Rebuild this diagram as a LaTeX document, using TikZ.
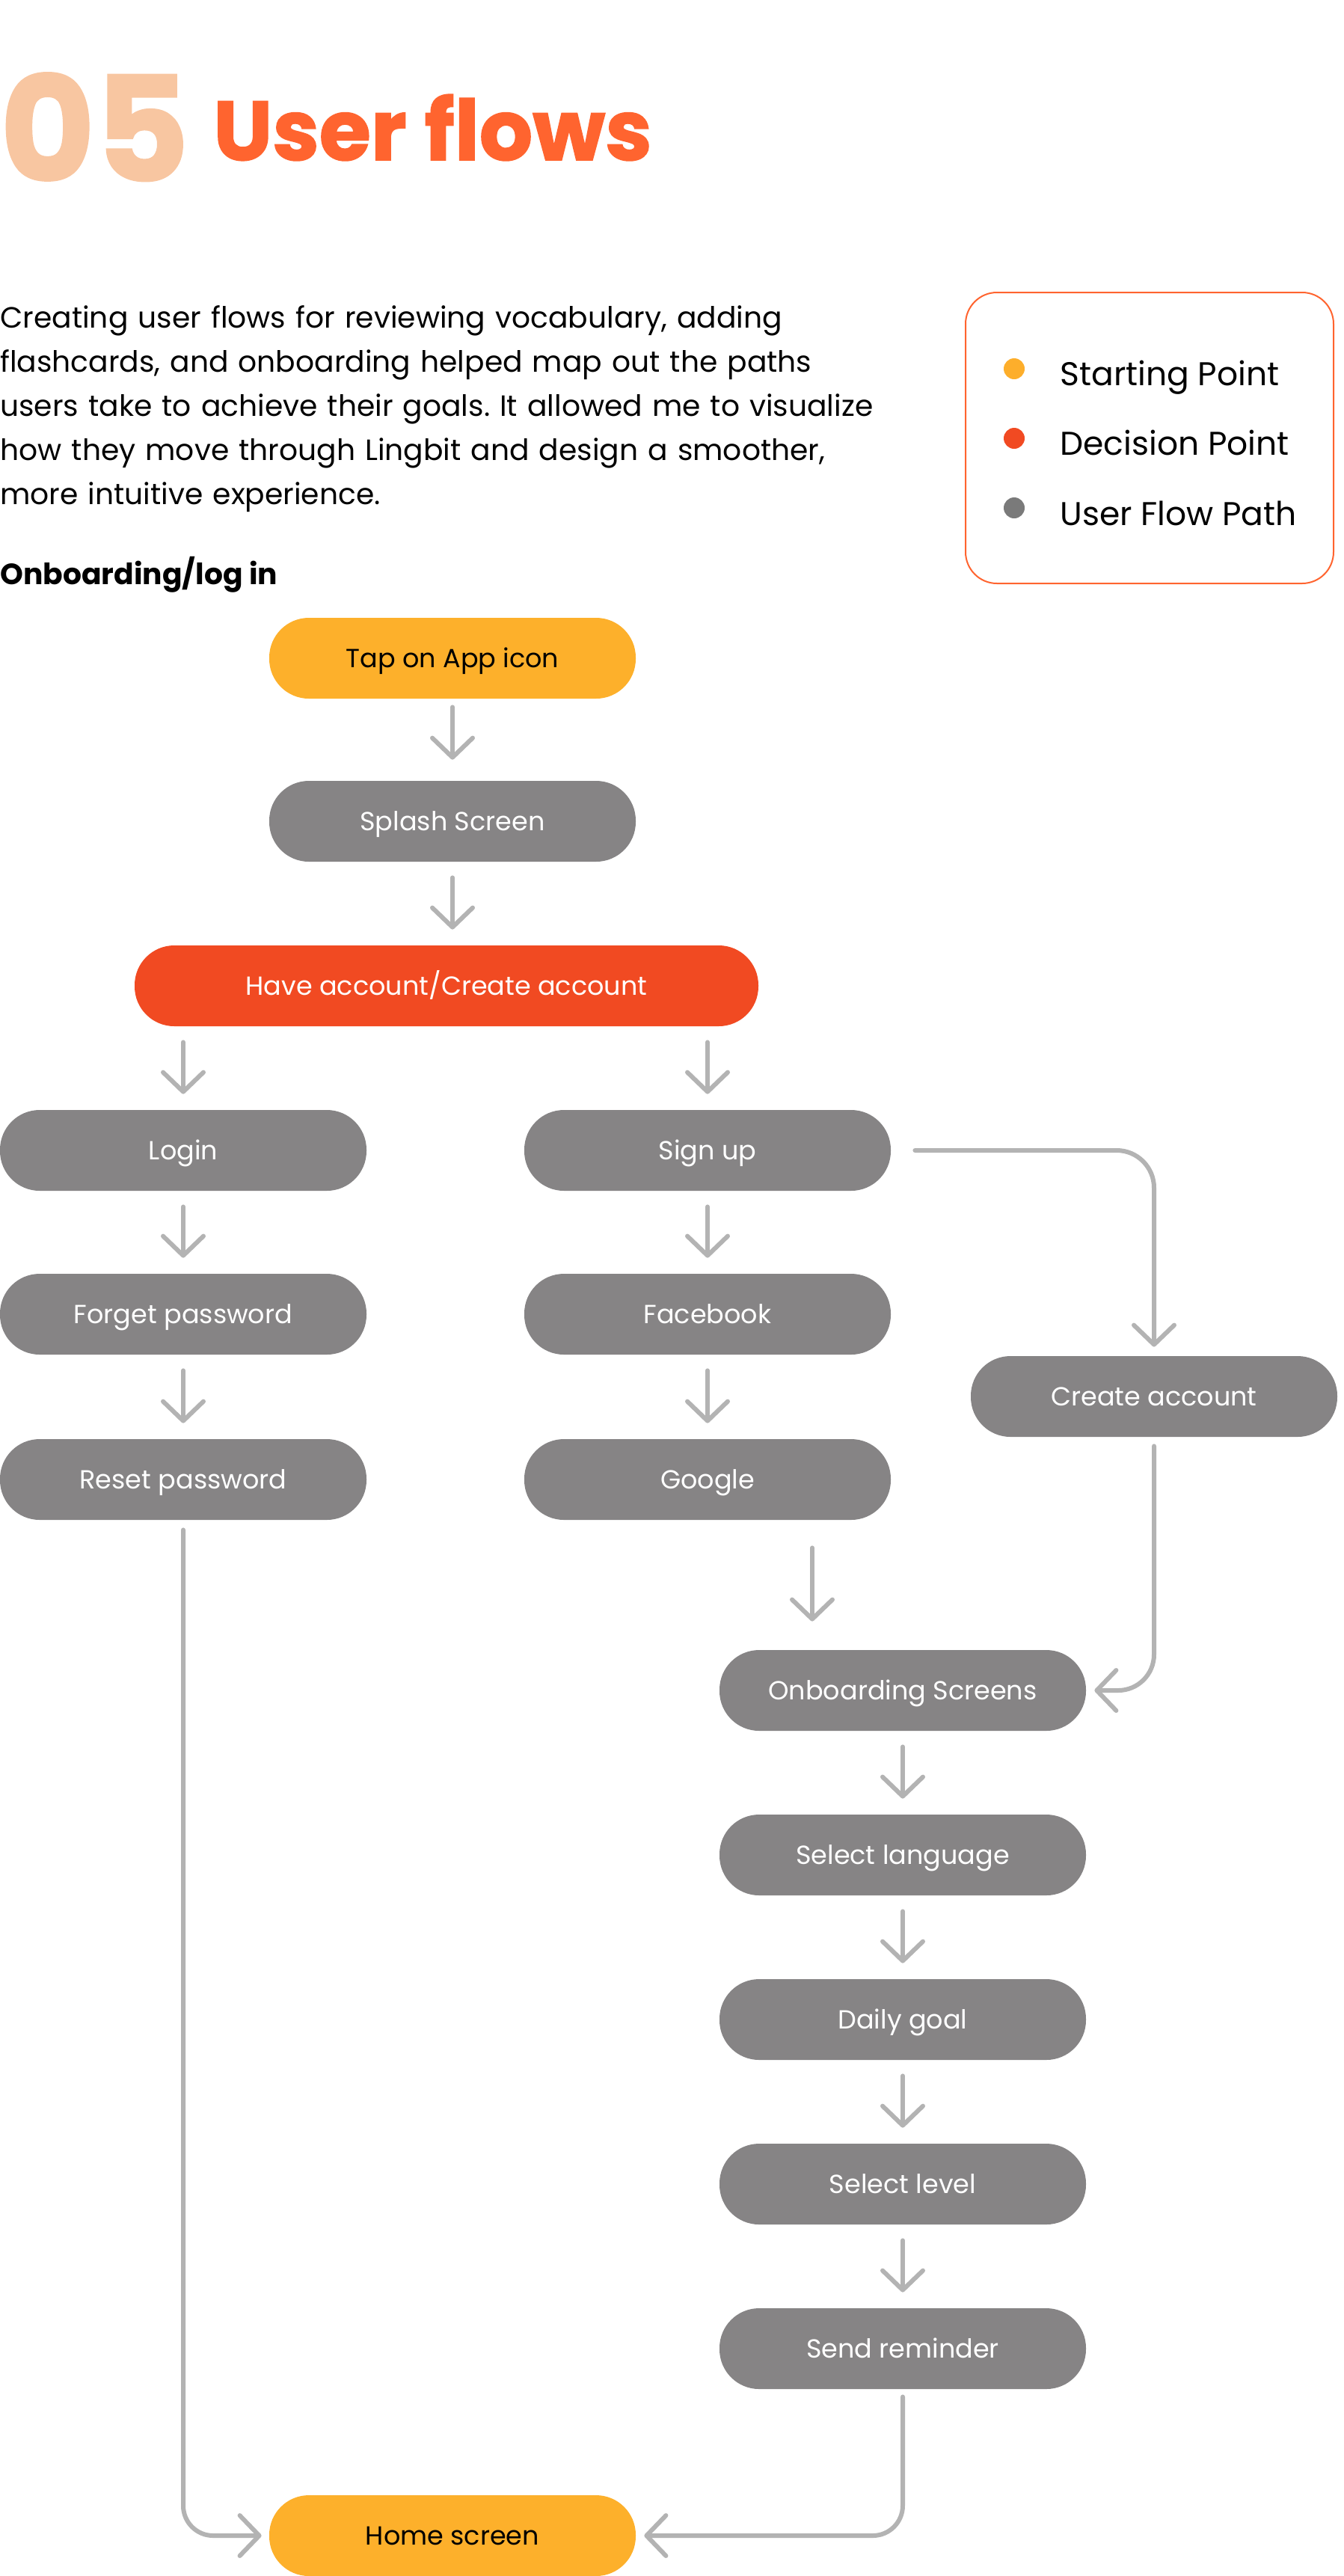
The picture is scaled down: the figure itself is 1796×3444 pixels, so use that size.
\documentclass[tikz,border=0pt]{standalone}
\usepackage{fontspec}
\setmainfont{Poppins}
\newfontfamily\headfont[BoldFeatures={FakeBold=1.5}]{Poppins}
\usetikzlibrary{arrows.meta}
\definecolor{startorange}{HTML}{FDB02B}
\definecolor{decisionred}{HTML}{F14A22}
\definecolor{pathgray}{HTML}{868485}
\definecolor{arrowgray}{HTML}{B3B3B3}
\definecolor{titlepeach}{HTML}{F8C6A1}
\definecolor{titleorange}{HTML}{FF642F}
\definecolor{dotorange}{HTML}{FDAE2B}
\definecolor{dotgray}{HTML}{7A7A7A}
\frenchspacing
\begin{document}
\begin{tikzpicture}[x=0.5pt,y=-0.5pt,
  boxdecorate/.style={shape=rectangle,rounded corners=26.5pt,minimum width=245pt,minimum height=54pt,inner sep=0pt,text height=12.5pt,text depth=0pt,font=\fontsize{17.5}{20}\selectfont},
  startdecorate/.style={boxdecorate,fill=startorange,text=black},
  pathdecorate/.style={boxdecorate,fill=pathgray,text=white},
  decisiondecorate/.style={boxdecorate,fill=decisionred,text=white,minimum width=417pt},
  dotdecorate/.style={shape=circle,inner sep=0pt,minimum size=14pt},
  labeldecorate/.style={anchor=base west,inner sep=0pt,font=\fontsize{22}{26}\selectfont},
  arrowdecorate/.style={-{Straight Barb[length=13pt,width=27pt,line cap=round,line join=round]},line width=3pt,draw=arrowgray,line cap=round},
  stepdecorate/.style={arrowdecorate,shorten <=10.5pt,shorten >=10.5pt}]
\useasboundingbox (0,0) rectangle (1796,3444);
% heading and text
\node (num) [anchor=base west,inner sep=0pt,text=titlepeach,font=\headfont\fontsize{97}{97}\bfseries\selectfont] at (0,242) {05};
\node (title) [anchor=base west,inner sep=0pt,text=titleorange,font=\headfont\fontsize{56}{56}\bfseries\selectfont] at (285,214) {User flows};
\node (intro) [anchor=base west,inner sep=0pt,text width=640pt,align=left,font=\fontsize{19.6}{29.6}\selectfont] at (0,438)
  {Creating user flows for reviewing vocabulary, adding\\
   flashcards, and onboarding helped map out the paths\\
   users take to achieve their goals. It allowed me to visualize\\
   how they move through Lingbit and design a smoother,\\
   more intuitive experience.};
\node (subhead) [anchor=base west,inner sep=0pt,font=\fontsize{19.6}{22}\bfseries\selectfont] at (0,781) {Onboarding/log in};
% legend
\node (legend) [draw=titleorange,line width=1pt,rounded corners=21pt,minimum width=246pt,minimum height=194.5pt] at (1537,585.5) {};
\node (startdot) [dotdecorate,fill=dotorange] at (1356,493) {};
\node (decidedot) [dotdecorate,fill=decisionred] at (1356,586) {};
\node (pathdot) [dotdecorate,fill=dotgray] at (1356,679) {};
\node (startlabel) [labeldecorate] at (1417,515) {Starting Point};
\node (decidelabel) [labeldecorate] at (1417,608) {Decision Point};
\node (pathlabel) [labeldecorate] at (1417,702) {User Flow Path};
% nodes or screens
\node (tap) [startdecorate] at (605,880) {Tap on App icon};
\node (splash) [pathdecorate] at (605,1098) {Splash Screen};
\node (choice) [decisiondecorate] at (597,1318) {Have account/Create account};
\node (login) [pathdecorate] at (245,1538) {Login};
\node (forget) [pathdecorate] at (245,1757) {Forget password};
\node (reset) [pathdecorate] at (245,1978) {Reset password};
\node (signup) [pathdecorate] at (946,1538) {Sign up};
\node (facebook) [pathdecorate] at (946,1757) {Facebook};
\node (google) [pathdecorate] at (946,1978) {Google};
\node (create) [pathdecorate] at (1543,1867) {Create account};
\node (onboard) [pathdecorate] at (1207,2260) {Onboarding Screens};
\node (language) [pathdecorate] at (1207,2480) {Select language};
\node (goal) [pathdecorate] at (1207,2700) {Daily goal};
\node (level) [pathdecorate] at (1207,2920) {Select level};
\node (reminder) [pathdecorate] at (1207,3140) {Send reminder};
\node (home) [startdecorate] at (605,3390) {Home screen};
\coordinate (gcol) at (1086,0);
% edges or flows
\path
(tap) edge[arrowdecorate,shorten <=5.5pt,shorten >=14pt] (splash)
(splash) edge[stepdecorate] (choice.north -| splash.south)
(choice.south -| login.north) edge[stepdecorate] (login.north)
(choice.south -| signup.north) edge[stepdecorate] (signup.north)
(login) edge[stepdecorate] (forget)
(forget) edge[stepdecorate] (reset)
(signup) edge[stepdecorate] (facebook)
(facebook) edge[stepdecorate] (google)
(google.south -| gcol) edge[arrowdecorate,shorten <=18.5pt,shorten >=19pt] (onboard.north -| gcol)
(onboard) edge[stepdecorate] (language)
(language) edge[stepdecorate] (goal)
(goal) edge[stepdecorate] (level)
(level) edge[stepdecorate] (reminder);
\draw[arrowdecorate,rounded corners=25pt,shorten <=16pt,shorten >=6pt] (signup.east) -| (create.north);
\draw[arrowdecorate,rounded corners=24pt,shorten <=6pt,shorten >=5.5pt] (create.south) |- (onboard.east);
\draw[arrowdecorate,rounded corners=20pt,shorten <=6.5pt,shorten >=5pt] (reset.south) |- (home.west);
\draw[arrowdecorate,rounded corners=20pt,shorten <=5pt,shorten >=5.5pt] (reminder.south) |- (home.east);
\end{tikzpicture}
\end{document}
